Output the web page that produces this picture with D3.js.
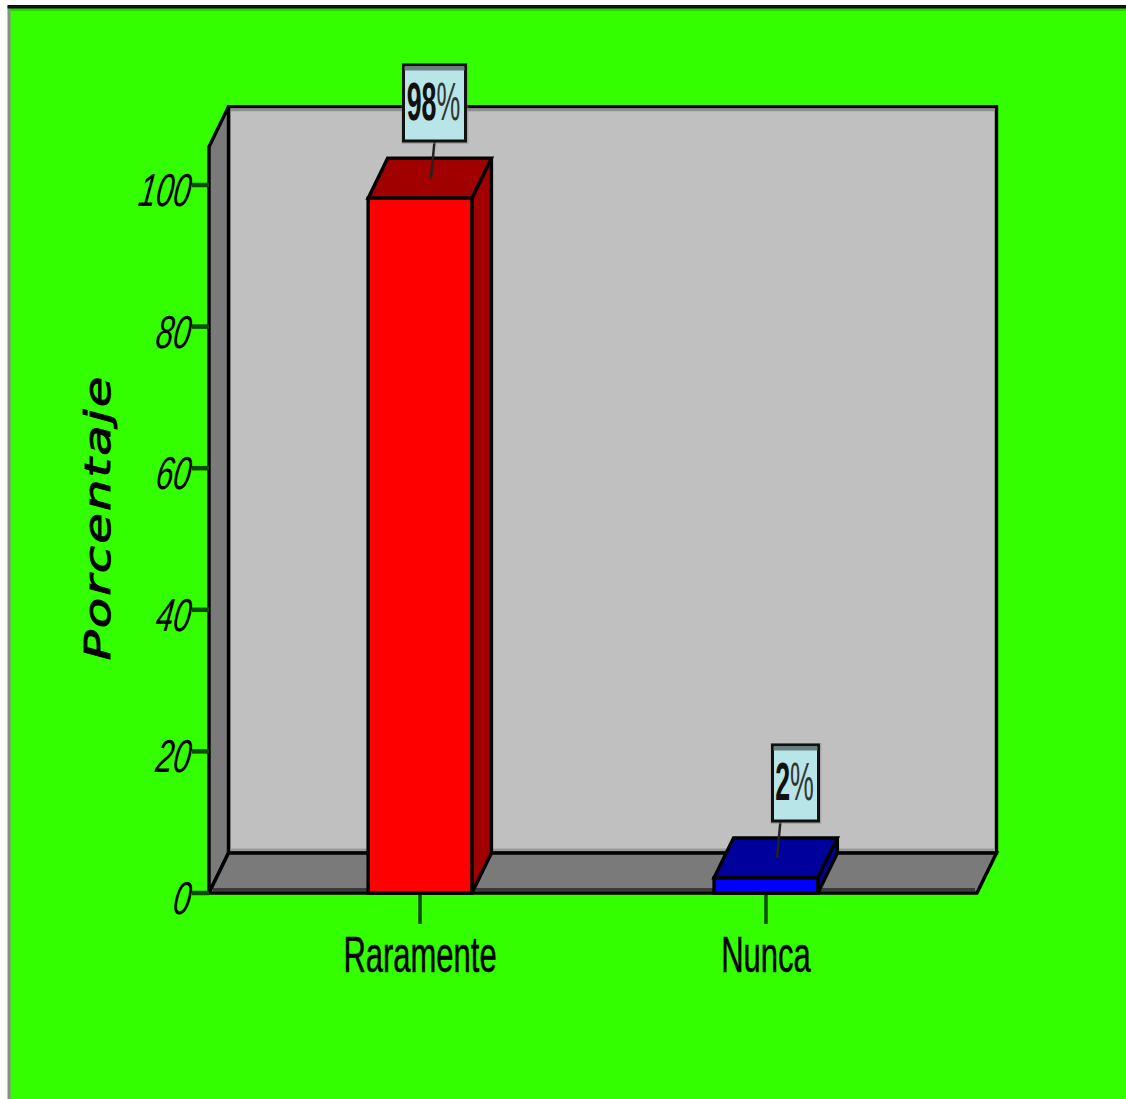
<!DOCTYPE html>
<html><head><meta charset="utf-8"><script src="https://cdn.jsdelivr.net/npm/d3@7"></script>
<style>html,body{margin:0;padding:0;background:#fff;overflow:hidden}svg{display:block}</style></head>
<body><svg id="c" width="1126" height="1099"></svg>
<script>
const categories = ["Raramente", "Nunca"];
const values = [98, 2];
const valueNumbers = ["98", "2"];
const faceColors = ["#ff0000", "#0000ff"];
const sideColors = ["#a00000", "#00009c"];
const yTicks = [0, 20, 40, 60, 80, 100];
const yTitle = "Porcentaje";

const W = 1126, H = 1099;
const svg = d3.select("#c");
const x = d3.scaleBand().domain(categories).range([209, 977]).paddingInner(0.7).paddingOuter(0.46);
const y = d3.scaleLinear().domain([0, 100]).range([893, 185]);
const dx = 19.5, dy = -40;
const yTop = y(105.4);
const K = "#000";
const line = d3.line();

// page frame
svg.append("rect").attr("width", W).attr("height", H).attr("fill", "#fff");
svg.append("rect").attr("x", 8).attr("y", 6).attr("width", W - 8).attr("height", H - 6).attr("fill", "#33ff00");
svg.append("rect").attr("x", 7.5).attr("y", 6).attr("width", 3).attr("height", H - 6).attr("fill", "#8c8c8c");
svg.append("rect").attr("x", 10.5).attr("y", 8).attr("width", W - 10).attr("height", 3).attr("fill", "#2dd400");
svg.append("rect").attr("x", 7.5).attr("y", 5).attr("width", W - 7).attr("height", 3.5).attr("fill", "#111");

const poly = (pts, fill, sw = 3.4) => svg.append("path").attr("d", line(pts) + "Z").attr("fill", fill)
  .attr("stroke", K).attr("stroke-width", sw).attr("stroke-linejoin", "miter");

const x0 = 209, x1 = 977, yB = y(0);
// back wall, side wall, floor
poly([[x0 + dx, yTop + dy], [x1 + dx, yTop + dy], [x1 + dx, yB + dy], [x0 + dx, yB + dy]], "#c0c0c0");
svg.append("rect").attr("x", x0 + dx + 1.5).attr("y", yTop + dy + 1.5).attr("width", x1 - x0 - 3).attr("height", 3).attr("fill", "#8e8e8e");
svg.append("rect").attr("x", x0 + dx + 1.5).attr("y", yB + dy - 4.5).attr("width", x1 - x0 - 3).attr("height", 3).attr("fill", "#999");
poly([[x0, yTop], [x0 + dx, yTop + dy], [x0 + dx, yB + dy], [x0, yB]], "#7a7a7a");
poly([[x0, yB], [x0 + dx, yB + dy], [x1 + dx, yB + dy], [x1, yB]], "#7a7a7a");
svg.append("rect").attr("x", x0 + 4).attr("y", yB - 5).attr("width", x1 - x0 - 6).attr("height", 3.5).attr("fill", "#3a3a3a");

// y ticks
const yG = svg.append("g").attr("class", "y");
yG.selectAll("line").data(yTicks).join("line")
  .attr("x1", x0 - 17).attr("x2", x0).attr("y1", d => y(d)).attr("y2", d => y(d))
  .attr("stroke", "#0e4a00").attr("stroke-width", 4.5);
yG.selectAll("text").data(yTicks).join("text")
  .attr("transform", d => `translate(189,${y(d) + 21}) skewX(-8) scale(1.24,1.85)`)
  .attr("text-anchor", "end").attr("font-family", "Liberation Sans").attr("font-style", "italic")
  .attr("font-size", 25).attr("fill", K).text(d => d);

// x ticks
const xG = svg.append("g").attr("class", "x");
xG.selectAll("line").data(categories).join("line")
  .attr("x1", d => x(d) + x.bandwidth() / 2).attr("x2", d => x(d) + x.bandwidth() / 2)
  .attr("y1", yB).attr("y2", yB + 31).attr("stroke", "#0e4a00").attr("stroke-width", 3.5);
xG.selectAll("text").data(categories).join("text")
  .attr("transform", d => `translate(${x(d) + x.bandwidth() / 2},972) scale(1.24,2.0)`)
  .attr("text-anchor", "middle").attr("font-family", "Liberation Sans")
  .attr("font-size", 25).attr("fill", K).attr("stroke", K).attr("stroke-width", 0.25).text(d => d);

// bars
const calloutX = [434.5, 795.5], calloutW = [62, 46], calloutTop = [65, 745];
values.forEach((v, i) => {
  const c = categories[i], a = x(c), b = a + x.bandwidth(), t = y(v) - 1;
  poly([[b, t], [b + dx, t + dy], [b + dx, yB + dy], [b, yB]], sideColors[i]);
  poly([[a, t], [a + dx, t + dy], [b + dx, t + dy], [b, t]], sideColors[i]);
  poly([[a, t], [b, t], [b, yB], [a, yB]], faceColors[i]);
  // callout
  const cx = (a + b) / 2 + 11, ay = t + dy / 2;
  const bw = calloutW[i], top = calloutTop[i], bot = top + 76, lx = calloutX[i];
  svg.append("path").attr("d", line([[cx, ay], [cx + 3.5, bot]])).attr("stroke", "#222").attr("stroke-width", 2.5);
  svg.append("rect").attr("x", lx - bw / 2 - 2).attr("y", top - 2).attr("width", bw + 5).attr("height", 81).attr("fill", "#888").attr("opacity", 0.45);
  svg.append("rect").attr("x", lx - bw / 2).attr("y", top).attr("width", bw).attr("height", bot - top)
    .attr("fill", "#b8e6e8").attr("stroke", "#111").attr("stroke-width", 3);
  svg.append("rect").attr("x", lx - bw / 2 + 1).attr("y", top + 1.5).attr("width", bw - 2).attr("height", 4).attr("fill", "#6a8080");
  const label = svg.append("text").attr("transform", `translate(${lx - 1},${top + 55}) scale(1.03,2.05)`)
    .attr("text-anchor", "middle").attr("font-family", "Liberation Sans")
    .attr("font-size", 26).attr("fill", "#111");
  label.append("tspan").attr("font-weight", 700).text(valueNumbers[i]);
  label.append("tspan").attr("font-weight", 400).attr("fill", "#333").text("%");
});

// y title
svg.append("text").attr("transform", "translate(110,517.5) rotate(-90) scale(1.42,1)")
  .attr("text-anchor", "middle").attr("font-family", "DejaVu Sans").attr("font-style", "italic")
  .attr("letter-spacing", 1.5).attr("stroke", K).attr("stroke-width", 0.9)
  .attr("font-size", 35).attr("fill", K).text(yTitle);
</script></body></html>
